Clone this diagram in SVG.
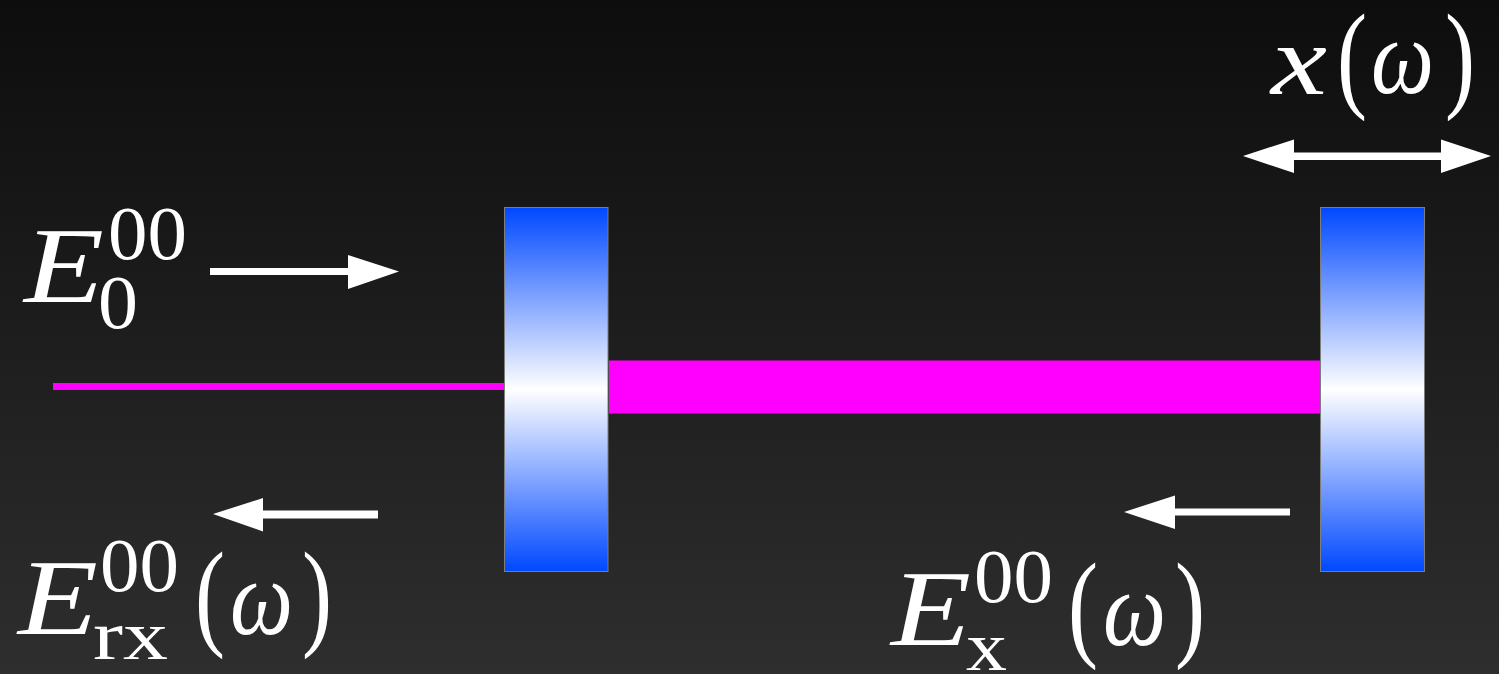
<svg xmlns="http://www.w3.org/2000/svg" width="1499" height="674" viewBox="0 0 1499 674">
<style>
text{fill:#fff;font-family:"Liberation Serif","Times New Roman",serif}
.i{font-style:italic}
.m{fill:url(#mirror);stroke:#7d7d7d;stroke-width:1}
.b{fill:#f0f}
.a{fill:#fff}
</style>
<defs>
<linearGradient id="bg" x1="0" y1="0" x2="0" y2="1"><stop offset="0" stop-color="#0d0d0d"/><stop offset="1" stop-color="#2e2e2e"/></linearGradient>
<linearGradient id="mirror" x1="0" y1="0" x2="0" y2="1"><stop offset="0" stop-color="#0048ff"/><stop offset="0.5" stop-color="#fff"/><stop offset="1" stop-color="#0048ff"/></linearGradient>
</defs>
<rect width="1499" height="674" fill="url(#bg)"/>
<g id="beams">
<rect class="b" x="53" y="383" width="452" height="7"/>
<rect class="b" x="609" y="360.500" width="711" height="53"/>
</g>
<g id="mirror-left"><rect class="m" x="504.500" y="207.500" width="103.500" height="364"/></g>
<g id="mirror-right"><rect class="m" x="1320.500" y="207.500" width="104" height="364"/></g>
<g id="connectors">
<polygon class="a" points="210,268 348,268 348,255 399,271.500 348,289 348,275 210,275"/>
<polygon class="a" points="378,510.500 263,510.500 263,498 213,514 263,531.500 263,518.500 378,518.500"/>
<polygon class="a" points="1290,508.500 1175,508.500 1175,495.500 1124,512 1175,529 1175,515.500 1290,515.500"/>
<polygon class="a" points="1243,156 1294,139.500 1294,152.500 1441,152.500 1441,139.500 1491,156 1441,173 1441,160 1294,160 1294,173"/>
</g>
<g id="label-x">
<text class="i" x="1271" y="94" font-size="100" textLength="56" lengthAdjust="spacingAndGlyphs">x</text>
<text x="1337" y="96" font-size="118" textLength="30" lengthAdjust="spacingAndGlyphs">(</text>
<text class="i" x="1371" y="93" font-size="108" textLength="63" lengthAdjust="spacingAndGlyphs">ω</text>
<text x="1445" y="96" font-size="118" textLength="30" lengthAdjust="spacingAndGlyphs">)</text>
</g>
<g id="label-e0">
<text class="i" x="24" y="302" font-size="109" textLength="80" lengthAdjust="spacingAndGlyphs">E</text>
<text x="108" y="259" font-size="76" textLength="79" lengthAdjust="spacingAndGlyphs">00</text>
<text x="98" y="328" font-size="76" textLength="40" lengthAdjust="spacingAndGlyphs">0</text>
</g>
<g id="label-erx">
<text class="i" x="18" y="634" font-size="109" textLength="80" lengthAdjust="spacingAndGlyphs">E</text>
<text x="100" y="591" font-size="76" textLength="79" lengthAdjust="spacingAndGlyphs">00</text>
<text x="93" y="659" font-size="70" textLength="75" lengthAdjust="spacingAndGlyphs">rx</text>
<text x="195" y="634" font-size="118" textLength="30" lengthAdjust="spacingAndGlyphs">(</text>
<text class="i" x="230" y="634" font-size="108" textLength="63" lengthAdjust="spacingAndGlyphs">ω</text>
<text x="302" y="634" font-size="118" textLength="30" lengthAdjust="spacingAndGlyphs">)</text>
</g>
<g id="label-ex">
<text class="i" x="891" y="645" font-size="109" textLength="80" lengthAdjust="spacingAndGlyphs">E</text>
<text x="974" y="602" font-size="76" textLength="79" lengthAdjust="spacingAndGlyphs">00</text>
<text x="966" y="670" font-size="70" textLength="41" lengthAdjust="spacingAndGlyphs">x</text>
<text x="1068" y="645" font-size="118" textLength="30" lengthAdjust="spacingAndGlyphs">(</text>
<text class="i" x="1103" y="645" font-size="108" textLength="63" lengthAdjust="spacingAndGlyphs">ω</text>
<text x="1175" y="645" font-size="118" textLength="30" lengthAdjust="spacingAndGlyphs">)</text>
</g>
</svg>
